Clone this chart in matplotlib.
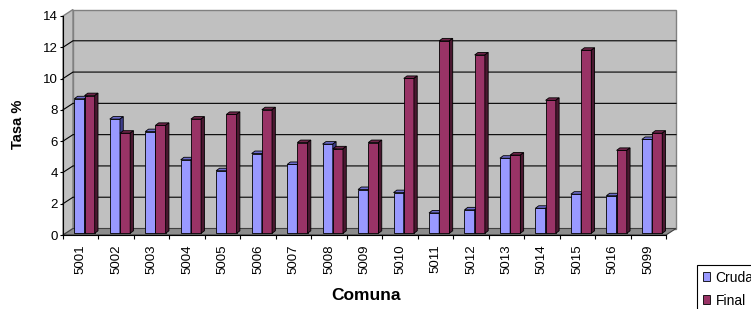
import matplotlib
matplotlib.use('Agg')
import matplotlib.pyplot as plt
import numpy as np
from matplotlib.patches import Polygon, Rectangle

plt.rcParams['font.family'] = ['Liberation Sans', 'DejaVu Sans']

# ---- data ----
categories = ['5001', '5002', '5003', '5004', '5005', '5006', '5007', '5008', '5009',
              '5010', '5011', '5012', '5013', '5014', '5015', '5016', '5099']
cruda = [8.6, 7.3, 6.5, 4.7, 4.0, 5.1, 4.4, 5.7, 2.8, 2.6, 1.3, 1.5, 4.8, 1.6, 2.5, 2.4, 6.0]
final = [8.8, 6.4, 6.9, 7.3, 7.6, 7.9, 5.8, 5.4, 5.8, 9.9, 12.3, 11.4, 5.0, 8.5, 11.7, 5.3, 6.4]
series_names = ['Cruda', 'Final']
y_ticks = [0, 2, 4, 6, 8, 10, 12, 14]
x_label = 'Comuna'
y_label = 'Tasa %'

# ---- layout (pixels) ----
W, H = 751, 309
AX_L, AX_R, AX_B, AX_T = 63, 666, 235, 16
fig = plt.figure(figsize=(W / 100, H / 100), dpi=100)
ax = fig.add_axes([AX_L / W, (H - AX_B) / H, (AX_R - AX_L) / W, (AX_B - AX_T) / H])
n = len(categories)
ymax = y_ticks[-1]
ax.set_xlim(0, n)
ax.set_ylim(0, ymax)
ax.patch.set_visible(False)

px_x = (AX_R - AX_L) / n
px_y = (AX_B - AX_T) / ymax


def ux(p):
    return p / px_x


def uy(p):
    return p / px_y


wdx, wdy = ux(10), uy(6.5)      # wall depth
bdx, bdy = ux(3.3), uy(2.5)     # bar depth
base = uy(1.7)                  # bar base lift
bw = ux(10.2)                   # bar width
x_start = ux(11.3)

wall_c = '#C0C0C0'
wall_edge = '#808080'
# back wall
ax.add_patch(Rectangle((wdx, wdy), n, ymax, facecolor=wall_c, edgecolor=wall_edge,
                       lw=1.0, zorder=0, clip_on=False))
# side wall
ax.add_patch(Polygon([(0, 0), (0, ymax), (wdx, ymax + wdy), (wdx, wdy)], closed=True,
                     facecolor=wall_c, edgecolor=wall_edge, lw=1.0, zorder=0, clip_on=False))
# floor
ax.add_patch(Polygon([(0, 0), (n, 0), (n + wdx, wdy), (wdx, wdy)], closed=True,
                     facecolor='#8C8C8C', edgecolor='#404040', lw=0.8, zorder=0.5, clip_on=False))
# gridlines
for v in y_ticks[1:-1]:
    ax.plot([0, wdx, n + wdx], [v, v + wdy, v + wdy], color='black', lw=0.8,
            zorder=1, clip_on=False)


def draw_series(xs, vals, front, top, side, z, label):
    cont = ax.bar(xs, vals, width=bw, bottom=base, align='edge', color=front,
                  edgecolor='black', lw=0.6, zorder=z, clip_on=False, label=label)
    for x0, v in zip(xs, vals):
        t = base + v
        ax.add_patch(Polygon([(x0, t), (x0 + bw, t), (x0 + bw + bdx, t + bdy), (x0 + bdx, t + bdy)],
                             closed=True, facecolor=top, edgecolor='black', lw=0.6,
                             zorder=z, clip_on=False))
        ax.add_patch(Polygon([(x0 + bw, base), (x0 + bw, t), (x0 + bw + bdx, t + bdy),
                              (x0 + bw + bdx, base + bdy)],
                             closed=True, facecolor=side, edgecolor='black', lw=0.6,
                             zorder=z, clip_on=False))
    return cont


xs_c = np.arange(n) + x_start
xs_f = xs_c + bw
bc = draw_series(xs_c, cruda, '#9999FF', '#6C6CCC', '#3E3E8C', 3, series_names[0])
bf = draw_series(xs_f, final, '#993366', '#6E2449', '#4A1830', 4, series_names[1])

# spines / ticks
for s in ['top', 'right']:
    ax.spines[s].set_visible(False)
for s in ['left', 'bottom']:
    ax.spines[s].set_color('black')
    ax.spines[s].set_linewidth(0.8)
    ax.spines[s].set_zorder(5)

ax.set_yticks(y_ticks)
ax.set_yticklabels([str(v) for v in y_ticks])
ax.tick_params(axis='y', length=2.2, width=0.8, pad=1.5, labelsize=9.5, direction='out')
ax.set_xticks(np.arange(n) + 0.5)
ax.set_xticklabels(categories, rotation=90)
ax.tick_params(axis='x', which='major', length=0, pad=6.5, labelsize=9.5)
ax.set_xticks(np.arange(n + 1), minor=True)
ax.tick_params(axis='x', which='minor', length=3, width=0.8, direction='out')

fig.text(18 / W, 1 - 124 / H, y_label, rotation=90, ha='center', va='center',
         fontsize=10.5, fontweight='bold')
fig.text(366 / W, 1 - 296 / H, x_label, ha='center', va='center',
         fontsize=12.5, fontweight='bold')

leg = fig.legend([bc, bf], series_names, loc='upper left',
                 bbox_to_anchor=(697 / W, 1 - 265 / H), frameon=True, fancybox=False,
                 edgecolor='black', framealpha=1, fontsize=10, handlelength=0.55,
                 handleheight=0.55, handletextpad=0.4, labelspacing=0.65,
                 borderpad=0.4, borderaxespad=0)
leg.get_frame().set_linewidth(0.8)

fig.savefig('out.png', dpi=100)
